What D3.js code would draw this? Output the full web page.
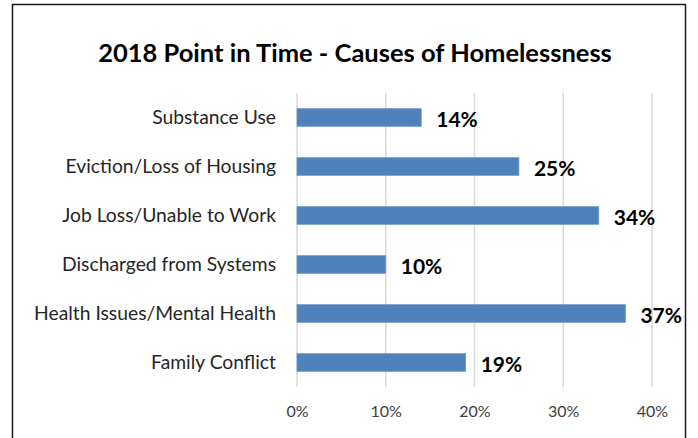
<!DOCTYPE html>
<html>
<head>
<meta charset="utf-8">
<script src="https://cdn.jsdelivr.net/npm/d3@7"></script>
<style>
  body { margin: 0; background: #fff; }
  text { font-family: Lato, "Open Sans", sans-serif; }
</style>
</head>
<body>
<div id="chart"></div>
<script>
// data
const causes = ["Substance Use", "Eviction/Loss of Housing", "Job Loss/Unable to Work",
                "Discharged from Systems", "Health Issues/Mental Health", "Family Conflict"];
const shares = [14, 25, 34, 10, 37, 19];
const tickValues = [0, 10, 20, 30, 40];
const chartTitle = "2018 Point in Time - Causes of Homelessness";

const width = 698, height = 438;
const margin = {top: 93, right: 46, bottom: 51, left: 297};

const svg = d3.select("#chart").append("svg")
  .attr("width", width)
  .attr("height", height);

// outer frame
svg.append("rect")
  .attr("x", 12.5).attr("y", 4.5)
  .attr("width", 673).attr("height", 440)
  .attr("fill", "none")
  .attr("stroke", "#1a1a1a")
  .attr("stroke-width", 1.5);

svg.append("text")
  .attr("x", 355).attr("y", 62)
  .attr("text-anchor", "middle")
  .attr("font-size", 25.5)
  .attr("font-weight", "bold")
  .attr("fill", "#000")
  .text(chartTitle);

const x = d3.scaleLinear()
  .domain([0, 40])
  .range([margin.left, width - margin.right]);

const y = d3.scaleBand()
  .domain(causes)
  .range([margin.top, height - margin.bottom])
  .paddingInner(0.64)
  .paddingOuter(0.32);

// gridlines
svg.append("g")
  .selectAll("line")
  .data(tickValues)
  .enter()
  .append("line")
  .attr("x1", d => x(d)).attr("x2", d => x(d))
  .attr("y1", margin.top).attr("y2", height - margin.bottom)
  .attr("stroke", "#d9d9d9")
  .attr("stroke-width", 1.5);

// x axis labels
const xAxis = svg.append("g")
  .attr("transform", `translate(0,${height - margin.bottom})`)
  .call(d3.axisBottom(x).tickValues(tickValues).tickFormat(d => d + "%").tickSize(0).tickPadding(19));
xAxis.select(".domain").remove();
xAxis.selectAll("text")
  .attr("font-family", "Lato, 'Open Sans', sans-serif")
  .attr("font-size", 16)
  .attr("fill", "#404040");

// category labels
const yAxis = svg.append("g")
  .attr("transform", `translate(${margin.left},0)`)
  .call(d3.axisLeft(y).tickSize(0).tickPadding(21));
yAxis.select(".domain").remove();
yAxis.selectAll("text")
  .attr("font-family", "Lato, 'Open Sans', sans-serif")
  .attr("font-size", 19.3)
  .attr("fill", "#262626");

// bars
svg.append("g")
  .selectAll("rect")
  .data(shares)
  .enter()
  .append("rect")
  .attr("x", x(0))
  .attr("y", (d, i) => y(causes[i]))
  .attr("width", d => x(d) - x(0))
  .attr("height", y.bandwidth())
  .attr("fill", "#4f81bd")
  .attr("stroke", "#6f97c8")
  .attr("stroke-width", 0.8);

// value labels
svg.append("g")
  .selectAll("text")
  .data(shares)
  .enter()
  .append("text")
  .attr("x", d => x(d) + 15)
  .attr("y", (d, i) => y(causes[i]) + y.bandwidth() / 2)
  .attr("dy", "0.45em")
  .attr("font-size", 21)
  .attr("font-weight", "bold")
  .attr("fill", "#000")
  .text(d => d + "%");
</script>
</body>
</html>
